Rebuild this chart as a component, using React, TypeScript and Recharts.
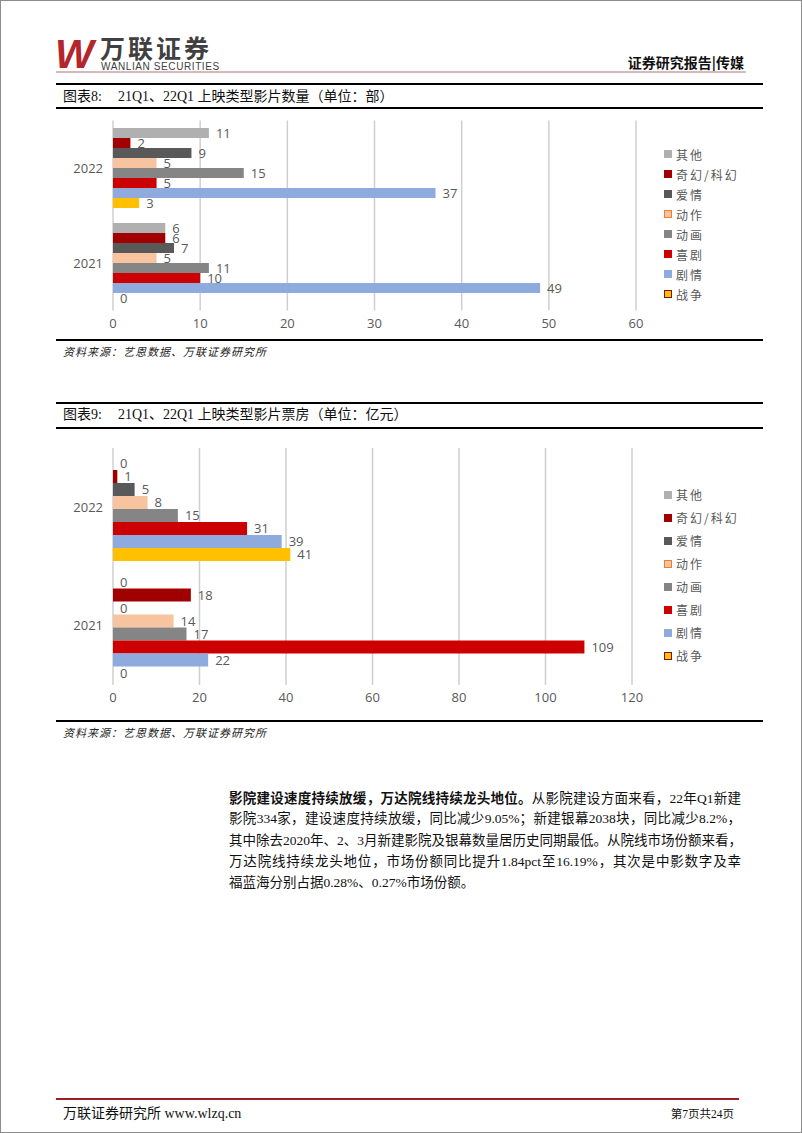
import React from "react";
import {
  BarChart,
  Bar,
  XAxis,
  YAxis,
  CartesianGrid,
  LabelList,
} from "recharts";

// 年份（上为2022，下为2021）
const years = ["2022", "2021"];

// 类型（由上到下）
const genres = ["其他", "奇幻/科幻", "爱情", "动作", "动画", "喜剧", "剧情", "战争"];
const genreColors = ["#B0B0B0", "#A00000", "#595959", "#F8C4A0", "#858585", "#CC0000", "#8FAADC", "#FFC000"];

// 图表8 上映类型影片数量（部）
const cntOther = [11, 6];
const cntFantasy = [2, 6];
const cntRomance = [9, 7];
const cntAction = [5, 5];
const cntAnimation = [15, 11];
const cntComedy = [5, 10];
const cntDrama = [37, 49];
const cntWar = [3, 0];
const cntTicks = [0, 10, 20, 30, 40, 50, 60];

// 图表9 上映类型影片票房（亿元）
const boxOther = [0, 0];
const boxFantasy = [1, 18];
const boxRomance = [5, 0];
const boxAction = [8, 14];
const boxAnimation = [15, 17];
const boxComedy = [31, 109];
const boxDrama = [39, 22];
const boxWar = [41, 0];
const boxTicks = [0, 20, 40, 60, 80, 100, 120];

const buildRows = (series: number[][]) =>
  years.map((y, i) => {
    const row: Record<string, string | number> = { year: y };
    series.forEach((s, k) => {
      row["s" + k] = s[i];
    });
    return row;
  });

const cntRows = buildRows([cntOther, cntFantasy, cntRomance, cntAction, cntAnimation, cntComedy, cntDrama, cntWar]);
const boxRows = buildRows([boxOther, boxFantasy, boxRomance, boxAction, boxAnimation, boxComedy, boxDrama, boxWar]);

const numFont = "'Open Sans', 'DejaVu Sans', sans-serif";
const cjkSerif = "'Liberation Serif', 'Noto Sans CJK SC', serif";
const cjkSans = "'Noto Sans CJK SC', sans-serif";

type PanelProps = {
  rows: Record<string, string | number>[];
  ticks: number[];
  top: number;
  height: number;
  marginTop: number;
  plotHeight: number;
  plotWidth: number;
  gap: number;
  legendTop: number;
  legendStep: number;
};

const Panel = ({ rows, ticks, top, height, marginTop, plotHeight, plotWidth, gap, legendTop, legendStep }: PanelProps) => {
  const width = 600;
  const yw = 55;
  const right = width - yw - plotWidth;
  const bottom = height - marginTop - plotHeight - 20;
  return (
    <>
      <div style={{ position: "absolute", left: 57, top, width, height }}>
        <BarChart
          width={width}
          height={height}
          data={rows}
          layout="vertical"
          margin={{ top: marginTop, right, bottom, left: 0 }}
          barGap={0}
          barCategoryGap={gap}
        >
          <CartesianGrid horizontal={false} stroke="#CFCFCF" strokeWidth={1.5} />
          <XAxis
            type="number"
            domain={[0, ticks[ticks.length - 1]]}
            ticks={ticks}
            axisLine={false}
            tickLine={false}
            height={20}
            tick={{ fill: "#595959", fontSize: 13, fontFamily: numFont }}
          />
          <YAxis
            type="category"
            dataKey="year"
            width={yw}
            axisLine={false}
            tickLine={false}
            tickMargin={4}
            tick={{ fill: "#595959", fontSize: 13, fontFamily: numFont }}
          />
          {genres.map((g, k) => (
            <Bar
              key={g}
              dataKey={"s" + k}
              name={g}
              fill={genreColors[k]}
              minPointSize={0.01}
              isAnimationActive={false}
            >
              <LabelList
                dataKey={"s" + k}
                position="right"
                offset={7}
                fill="#595959"
                fontSize={13}
                fontFamily={numFont}
              />
            </Bar>
          ))}
        </BarChart>
      </div>
      <div style={{ position: "absolute", left: 663, top: legendTop }}>
        {genres.map((g, k) => (
          <div
            key={g}
            style={{
              display: "flex",
              alignItems: "center",
              height: legendStep,
              fontFamily: cjkSans,
              fontSize: 12,
              letterSpacing: 2,
              color: "#595959",
            }}
          >
            <span
              style={{
                display: "inline-block",
                width: 8,
                height: 8,
                boxSizing: "border-box",
                background: genreColors[k],
                border: k === 3 ? "1px solid #ED7D31" : k === 7 ? "1px solid #7F1010" : "none",
                marginRight: 4,
              }}
            />
            {g}
          </div>
        ))}
      </div>
    </>
  );
};

const Rule = ({ top, left = 55, width = 707, h = 2, color = "#000" }: { top: number; left?: number; width?: number; h?: number; color?: string }) => (
  <div style={{ position: "absolute", top, left, width, height: h, background: color }} />
);

const Title = ({ top, label, text }: { top: number; label: string; text: string }) => (
  <div style={{ position: "absolute", top, left: 62, fontFamily: cjkSerif, fontSize: 14, lineHeight: "14px", color: "#111", whiteSpace: "nowrap" }}>
    <span style={{ marginRight: 16 }}>{label}</span>
    {text}
  </div>
);

const Source = ({ top }: { top: number }) => (
  <div style={{ position: "absolute", top, left: 62, fontFamily: cjkSerif, fontSize: 11, lineHeight: "11px", fontStyle: "italic", color: "#222", letterSpacing: 1 }}>
    资料来源：艺恩数据、万联证券研究所
  </div>
);

const paraLines = [
  "影院334家，建设速度持续放缓，同比减少9.05%；新建银幕2038块，同比减少8.2%，",
  "其中除去2020年、2、3月新建影院及银幕数量居历史同期最低。从院线市场份额来看，",
  "万达院线持续龙头地位，市场份额同比提升1.84pct至16.19%，其次是中影数字及幸",
];

const App = () => {
  const lineStyle: React.CSSProperties = {
    width: 512,
    height: 21.25,
    lineHeight: "21.25px",
    textAlign: "justify",
    textAlignLast: "justify",
    whiteSpace: "nowrap",
  };
  return (
    <div
      style={{
        position: "absolute",
        left: 0,
        top: 0,
        width: 802,
        height: 1133,
        boxSizing: "border-box",
        border: "1px solid #8C8C8C",
        background: "#fff",
        overflow: "hidden",
      }}
    >
      {/* 页眉 */}
      <div style={{ position: "absolute", left: 54, top: 33, fontFamily: "'Liberation Sans', sans-serif", fontWeight: 700, fontStyle: "italic", fontSize: 41, lineHeight: "41px", color: "#B3262B" }}>
        W
      </div>
      <div style={{ position: "absolute", left: 99, top: 34, fontFamily: cjkSans, fontWeight: 700, fontSize: 25, lineHeight: "25px", letterSpacing: 3, color: "#404040" }}>
        万联证券
      </div>
      <div style={{ position: "absolute", left: 100, top: 61, fontFamily: "'Liberation Sans Narrow', 'Liberation Sans', sans-serif", fontSize: 10, lineHeight: "10px", letterSpacing: 0.6, color: "#404040" }}>
        WANLIAN SECURITIES
      </div>
      <div style={{ position: "absolute", right: 802 - 745, top: 54, fontFamily: cjkSans, fontWeight: 700, fontSize: 14, lineHeight: "14px", color: "#111" }}>
        证券研究报告|传媒
      </div>
      <Rule top={70} width={690} h={1.5} color="#D8B8BA" />

      {/* 图表8 */}
      <Rule top={82} />
      <Title top={89} label="图表8:" text="21Q1、22Q1 上映类型影片数量（单位：部）" />
      <Rule top={106} />
      <Panel
        rows={cntRows}
        ticks={cntTicks}
        top={110}
        height={230}
        marginTop={9.5}
        plotHeight={190}
        plotWidth={523}
        gap={7.5}
        legendTop={143}
        legendStep={20}
      />
      <Rule top={338} />
      <Source top={346} />

      {/* 图表9 */}
      <Rule top={401} />
      <Title top={407} label="图表9:" text="21Q1、22Q1 上映类型影片票房（单位：亿元）" />
      <Rule top={426} />
      <Panel
        rows={boxRows}
        ticks={boxTicks}
        top={437}
        height={280}
        marginTop={10}
        plotHeight={237}
        plotWidth={519}
        gap={9}
        legendTop={482}
        legendStep={23}
      />
      <Rule top={719} />
      <Source top={727} />

      {/* 正文 */}
      <div style={{ position: "absolute", left: 228, top: 786, fontFamily: cjkSerif, fontSize: 13.5, color: "#111" }}>
        <div style={lineStyle}>
          <b style={{ fontFamily: cjkSans }}>影院建设速度持续放缓，万达院线持续龙头地位。</b>从影院建设方面来看，22年Q1新建
        </div>
        {paraLines.map((l) => (
          <div key={l} style={lineStyle}>
            {l}
          </div>
        ))}
        <div style={{ ...lineStyle, textAlignLast: "left" }}>福蓝海分别占据0.28%、0.27%市场份额。</div>
      </div>

      {/* 页脚 */}
      <Rule top={1097} width={683} h={2} color="#9E1F23" />
      <div style={{ position: "absolute", left: 62, top: 1105, fontFamily: cjkSerif, fontSize: 14, lineHeight: "16px", color: "#111" }}>
        万联证券研究所 www.wlzq.cn
      </div>
      <div style={{ position: "absolute", right: 802 - 735, top: 1106, fontFamily: cjkSerif, fontSize: 11.5, lineHeight: "14px", color: "#111" }}>
        第7页共24页
      </div>
    </div>
  );
};

export default App;
